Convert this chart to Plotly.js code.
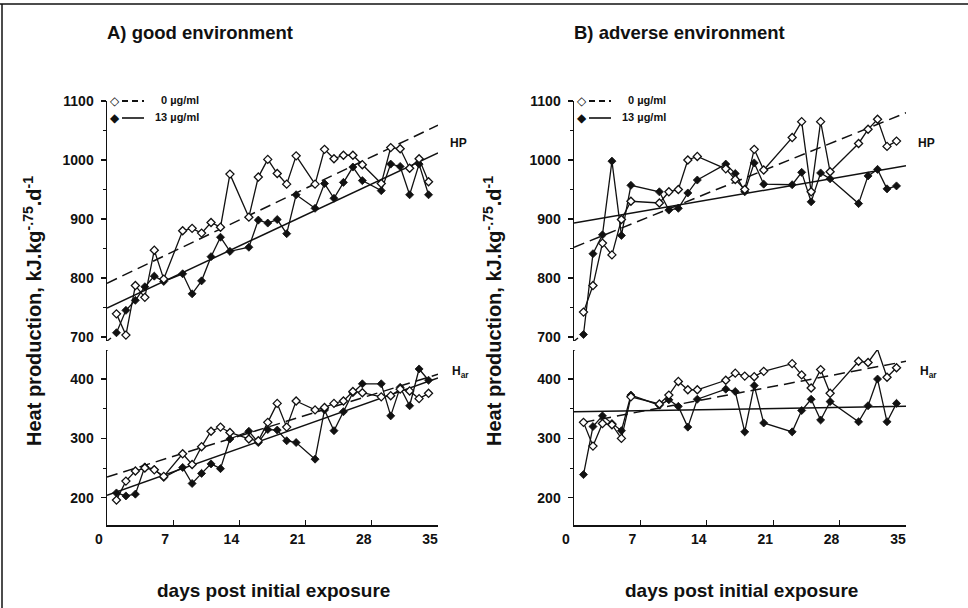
<!DOCTYPE html>
<html>
<head>
<meta charset="utf-8">
<script src="https://cdn.plot.ly/plotly-3.0.1.min.js"></script>
<style>
  html, body { margin: 0; padding: 0; background: #fff; }
  #chart { width: 968px; height: 608px; }
</style>
</head>
<body>
<div id="chart"></div>
<script>
// ---- measurement days ----
const daysA = [1,2,3,4,5,6, 8,9,10,11,12,13, 15,16,17,18,19,20, 22,23,24,25,26,27, 29,30,31,32,33,34];
const daysB = [1,2,3,4,5,6, 9,10,11,12,13, 16,17,18,19,20, 23,24,25,26,27, 30,31,32,33,34];

// ---- A) good environment: heat production (HP) ----
const hpA_0  = [739,703,787,767,847,798, 880,884,876,894,886,976, 903,971,1001,977,959,1007, 959,1018,1002,1008,1008,992, 960,1021,1019,986,1002,963];
const hpA_13 = [707,745,762,785,803,794, 807,773,795,836,869,845, 852,898,893,899,875,941, 918,960,935,962,988,965, 948,993,989,941,993,941];
// ---- A) good environment: H_ar ----
const harA_0  = [196,228,245,250,247,236, 274,256,286,312,319,310, 299,296,327,359,319,363, 348,352,359,363,379,377, 370,372,383,380,367,376];
const harA_13 = [208,203,206,252,248,234, 251,224,241,257,249,299, 312,293,315,314,296,293, 265,348,313,345,377,392, 392,338,386,355,417,398];

// ---- B) adverse environment: HP ----
const hpB_0  = [742,787,859,839,899,930, 927,946,950,1000,1006, 985,967,950,1018,983, 1038,1065,946,1065,980, 1028,1052,1069,1023,1032];
const hpB_13 = [704,841,873,998,872,957, 946,915,918,944,966, 993,977,946,995,959, 958,979,929,978,968, 926,973,984,951,956];
// ---- B) adverse environment: H_ar ----
const harB_0  = [327,287,325,323,300,370, 358,373,396,382,382, 398,410,405,404,413, 426,407,385,416,376, 430,428,450,403,419];
const harB_13 = [239,320,338,325,313,373, 356,365,354,319,366, 383,379,311,389,326, 311,347,366,331,362, 328,355,400,328,359];

// ---- fitted regression lines (start / end) ----
const fitDays     = [0, 35];
const fitHpA_0    = [791, 1059];
const fitHpA_13   = [749, 1012];
const fitHarA_0   = [235, 408];
const fitHarA_13  = [204, 402];
const fitHpB_0    = [852, 1080];
const fitHpB_13   = [893, 990];
const fitDaysHarB0 = [1, 35];
const fitHarB_0   = [327, 430];
const fitHarB_13  = [345, 354];

// ---- axis ticks ----
const dayTicks = [0, 7, 14, 21, 28, 35];
const hpTicks  = [700, 800, 900, 1000, 1100];
const harTicks = [200, 300, 400];

const W = 968, H = 608;
const px = v => v / W;          // horizontal pixel -> paper
const py = v => 1 - v / H;      // vertical pixel -> paper

const FONT = '"Liberation Sans", Arial, sans-serif';
const BLACK = '#111';

function series(x, y, xa, ya, open) {
  return {
    type: 'scatter', mode: 'lines+markers', x: x, y: y, xaxis: xa, yaxis: ya,
    line: { color: BLACK, width: 1.3 },
    marker: open
      ? { symbol: 'diamond', size: 6.2, color: '#fff', line: { color: BLACK, width: 1.3 } }
      : { symbol: 'diamond', size: 6.2, color: BLACK, line: { color: BLACK, width: 0.8 } },
    showlegend: false, hoverinfo: 'skip', cliponaxis: false
  };
}
function fit(x, y, xa, ya, dashed) {
  return {
    type: 'scatter', mode: 'lines', x: x, y: y, xaxis: xa, yaxis: ya,
    line: { color: BLACK, width: 1.5, dash: dashed ? '11px,6px' : 'solid' },
    showlegend: false, hoverinfo: 'skip'
  };
}

const traces = [
  fit(fitDays, fitHpA_0, 'x', 'y2', true),
  fit(fitDays, fitHpA_13, 'x', 'y2', false),
  fit(fitDays, fitHarA_0, 'x', 'y', true),
  fit(fitDays, fitHarA_13, 'x', 'y', false),
  fit(fitDays, fitHpB_0, 'x2', 'y4', true),
  fit(fitDays, fitHpB_13, 'x2', 'y4', false),
  fit(fitDaysHarB0, fitHarB_0, 'x2', 'y3', true),
  fit(fitDays, fitHarB_13, 'x2', 'y3', false),

  series(daysA, hpA_13, 'x', 'y2', false),
  series(daysA, hpA_0, 'x', 'y2', true),
  series(daysA, harA_13, 'x', 'y', false),
  series(daysA, harA_0, 'x', 'y', true),
  series(daysB, hpB_13, 'x2', 'y4', false),
  series(daysB, hpB_0, 'x2', 'y4', true),
  series(daysB, harB_13, 'x2', 'y3', false),
  series(daysB, harB_0, 'x2', 'y3', true)
];

const tickFont = { family: FONT, size: 14, color: BLACK, weight: 'bold' };

function xAxis(d0, d1, anchor) {
  return {
    domain: [px(d0), px(d1)], range: [0, 35], anchor: anchor,
    tickvals: dayTicks, ticktext: dayTicks.map(String),
    ticks: 'inside', ticklen: 5, tickwidth: 1.3, tickcolor: BLACK,
    showline: true, linecolor: BLACK, linewidth: 1.5,
    showgrid: false, zeroline: false, fixedrange: true,
    tickfont: tickFont, ticklabelshift: -8, ticklabelstandoff: 1
  };
}
function yAxis(top, bottom, range, ticks, anchor) {
  return {
    domain: [py(bottom), py(top)], range: range, anchor: anchor,
    tickvals: ticks, ticktext: ticks.map(String),
    ticks: 'outside', ticklen: 5, tickwidth: 1.3, tickcolor: BLACK,
    minor: { dtick: 50, ticks: 'outside', ticklen: 3, tickwidth: 1, tickcolor: BLACK },
    showline: true, linecolor: BLACK, linewidth: 1.5,
    showgrid: false, zeroline: false, fixedrange: true,
    tickfont: tickFont, ticklabelstandoff: 4
  };
}

// axis pixel geometry
const A_L = 107, A_R = 438, B_L = 574, B_R = 906;
const UP_T = 101, UP_B = 341, LO_T = 350, LO_B = 525;
const hpRange = [693, 1100], harRange = [154, 449];

const layout = {
  width: W, height: H,
  margin: { l: 0, r: 0, t: 0, b: 0 },
  paper_bgcolor: '#fff', plot_bgcolor: 'rgba(0,0,0,0)',
  showlegend: false,
  font: { family: FONT, color: BLACK },
  xaxis:  xAxis(A_L, A_R, 'y'),
  xaxis2: xAxis(B_L, B_R, 'y3'),
  yaxis:  yAxis(LO_T, LO_B, harRange, harTicks, 'x'),
  yaxis2: yAxis(UP_T, UP_B, hpRange, hpTicks, 'x'),
  yaxis3: yAxis(LO_T, LO_B, harRange, harTicks, 'x2'),
  yaxis4: yAxis(UP_T, UP_B, hpRange, hpTicks, 'x2'),
  shapes: [],
  annotations: []
};

// axis-break slashes at the ends of the split y axes
[['x', 'y2', hpRange[0]], ['x', 'y', harRange[1]], ['x2', 'y4', hpRange[0]], ['x2', 'y3', harRange[1]]]
  .forEach(([xa, ya, v]) => {
    layout.shapes.push({
      type: 'line', xref: xa, yref: ya,
      xsizemode: 'pixel', xanchor: 0, x0: -5, x1: 4,
      ysizemode: 'pixel', yanchor: v, y0: -4, y1: 3,
      line: { color: BLACK, width: 1.4 }
    });
  });

// figure frame (top and left rules)
layout.shapes.push({ type: 'line', xref: 'paper', yref: 'paper', x0: 0, x1: 1, y0: py(4), y1: py(4), line: { color: BLACK, width: 1.5 } });
layout.shapes.push({ type: 'line', xref: 'paper', yref: 'paper', x0: px(2), x1: px(2), y0: py(4), y1: 0, line: { color: BLACK, width: 1.5 } });

function text(t, x, y, opts) {
  layout.annotations.push(Object.assign({
    text: t, xref: 'paper', yref: 'paper', x: px(x), y: py(y),
    showarrow: false, xanchor: 'left', yanchor: 'middle',
    font: { family: FONT, size: 13, color: BLACK, weight: 'bold' }
  }, opts || {}));
}

[[A_L, A_R, 32, 'A) good environment'], [B_L, B_R, 492, 'B) adverse environment']].forEach(([L, R, yTitleX, title]) => {
  // panel title
  text(title, L - 2, 33, { font: { family: FONT, size: 18.5, color: BLACK, weight: 'bold' } });
  // x axis title
  text('days post initial exposure', (L + R) / 2 + 1, 590,
    { xanchor: 'center', font: { family: FONT, size: 19, color: BLACK, weight: 'bold' } });
  // y axis title
  text('Heat production, kJ.kg<sup>-.75</sup>.d<sup>-1</sup>', yTitleX, 311,
    { xanchor: 'center', textangle: -90, font: { family: FONT, size: 20, color: BLACK, weight: 'bold' } });
  // curve labels
  text('HP', R + 10, 143, { font: { family: FONT, size: 12, color: BLACK, weight: 'bold' } });
  text('H<sub>ar</sub>', R + 12, 372, { font: { family: FONT, size: 12, color: BLACK, weight: 'bold' } });
  // key
  text('\u25C7', L + 8, UP_T, { xanchor: 'center', font: { family: 'DejaVu Sans', size: 12, color: BLACK } });
  text('\u25C6', L + 8, UP_T + 17, { xanchor: 'center', font: { family: 'DejaVu Sans', size: 12, color: BLACK } });
  layout.shapes.push({ type: 'line', xref: 'paper', yref: 'paper', x0: px(L + 15), x1: px(L + 37), y0: py(UP_T), y1: py(UP_T),
    line: { color: BLACK, width: 1.8, dash: '6px,4px' } });
  layout.shapes.push({ type: 'line', xref: 'paper', yref: 'paper', x0: px(L + 15), x1: px(L + 37), y0: py(UP_T + 17), y1: py(UP_T + 17),
    line: { color: BLACK, width: 1.6 } });
  text('0 \u00B5g/ml', L + 94, UP_T - 1, { xanchor: 'right', font: { family: FONT, size: 11, color: BLACK, weight: 'bold' } });
  text('13 \u00B5g/ml', L + 94, UP_T + 16, { xanchor: 'right', font: { family: FONT, size: 11, color: BLACK, weight: 'bold' } });
});

Plotly.newPlot('chart', traces, layout, { staticPlot: true, displayModeBar: false });
</script>
</body>
</html>
